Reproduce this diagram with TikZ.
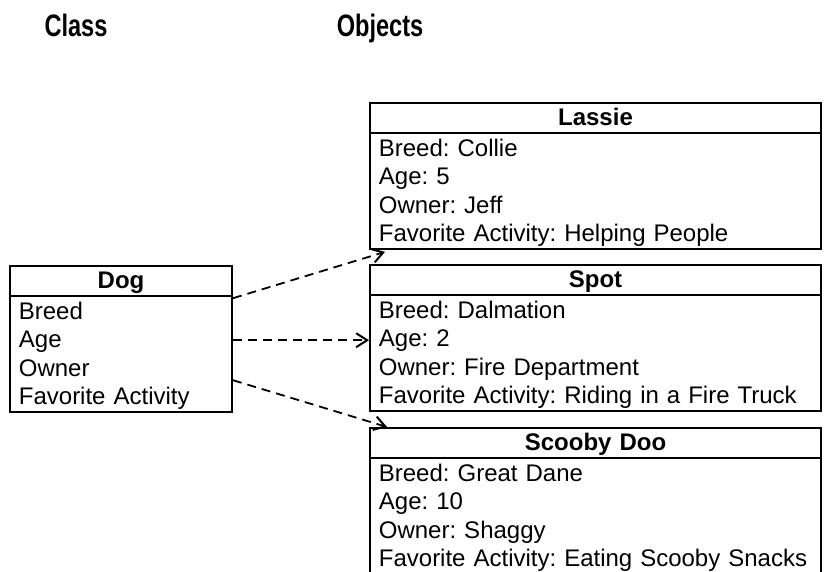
\documentclass[tikz,border=0pt]{standalone}
\usepackage{fontspec}
\setmainfont{Liberation Sans}
\usetikzlibrary{arrows.meta,positioning,calc,shapes.multipart}
\frenchspacing
\newcommand\rowstrut{\rule[-6.5pt]{0pt}{28.5pt}}
\newcommand\boxtitle[1]{\hbox to\hsize{\rowstrut\hfil\textbf{#1}\hfil}}

\begin{document}
\begin{tikzpicture}[x=1pt,y=-1pt,
  umlbox/.style={draw,line width=1.8pt,rectangle split,rectangle split parts=2,
    inner xsep=9pt,inner ysep=0pt,align=left,font=\fontsize{24}{28.5}\selectfont},
  objbox/.style={umlbox,text width=433.2pt,anchor=north west},
  heading/.style={font=\fontsize{31}{34}\selectfont\bfseries,xscale=0.76,anchor=base},
  link/.style={line width=1.8pt,dash pattern=on 9pt off 6pt,
    -{Straight Barb[length=11pt,width=14pt,line width=2pt]}}]
  \useasboundingbox[fill=white] (0,0) rectangle (824,572);
  \node[heading] (classtitle) at (76,37) {Class};
  \node[heading] (objtitle) at (380,37) {Objects};
  % class
  \node[umlbox,text width=204.2pt,anchor=north west] (dog) at (9,265)
    {\boxtitle{Dog}\nodepart{second}\rowstrut Breed\\\rowstrut Age\\
     \rowstrut Owner\\\rowstrut Favorite Activity};
  % objects
  \node[objbox] (lassie) at (369,102)
    {\boxtitle{Lassie}\nodepart{second}\rowstrut Breed: Collie\\
     \rowstrut Age: 5\\\rowstrut Owner: Jeff\\\rowstrut Favorite Activity: Helping People};
  \node[objbox] (spot) at (369,264)
    {\boxtitle{Spot}\nodepart{second}\rowstrut Breed: Dalmation\\
     \rowstrut Age: 2\\\rowstrut Owner: Fire Department\\
     \rowstrut Favorite Activity: Riding in a Fire Truck};
  \node[objbox] (scooby) at (369,427)
    {\boxtitle{Scooby Doo}\nodepart{second}\rowstrut Breed: Great Dane\\
     \rowstrut Age: 10\\\rowstrut Owner: Shaggy\\
     \rowstrut Favorite Activity: Eating Scooby Snacks\rule[-10pt]{0pt}{1pt}};
  % instances
  \draw[link] ([yshift=-2pt]dog.one split east) -- ([xshift=16pt,yshift=-2pt]lassie.south west);
  \draw[link] ([yshift=-44pt]dog.one split east) coordinate (agept) -- (agept -| spot.west);
  \draw[link] ([yshift=-84pt]dog.one split east) -- ([xshift=18pt]scooby.north west);
\end{tikzpicture}
\end{document}
